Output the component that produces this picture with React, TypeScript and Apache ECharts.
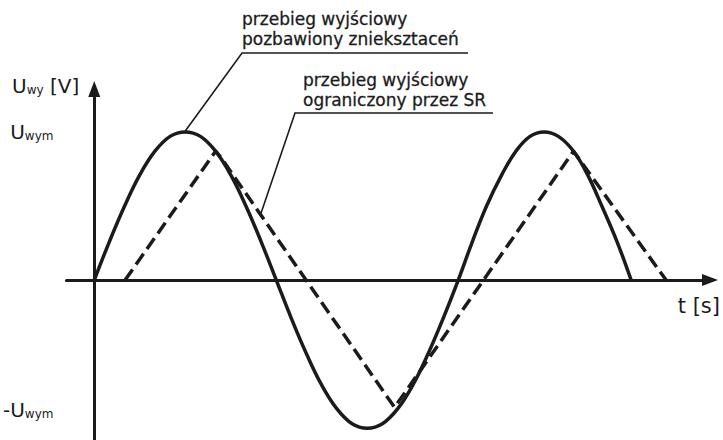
import React, { useEffect, useRef } from "react";
import * as echarts from "echarts";

const INK = "#1b1b1b";
const FONT = "DejaVu Sans, Verdana, sans-serif";

// Time in degrees of the input period, voltage normalised to U_wym.
// Undistorted output (solid curve).
const cleanTime = [
  0, 15, 30, 45, 60, 75, 90, 105, 120, 135, 150, 165, 180, 195, 210, 225, 240,
  255, 270, 285, 300, 315, 330, 345, 360, 374, 388, 403, 417, 431, 445, 459,
  474, 488, 502, 517, 531,
];
const cleanVolt = [
  0, 0.26, 0.5, 0.71, 0.87, 0.97, 1, 0.97, 0.87, 0.71, 0.5, 0.26, 0, -0.26,
  -0.5, -0.71, -0.87, -0.97, -1, -0.97, -0.87, -0.71, -0.5, -0.26, 0, 0.26, 0.5,
  0.71, 0.87, 0.97, 1, 0.97, 0.87, 0.71, 0.5, 0.26, 0,
];

// Output limited by the slew rate (dashed curve).
const srTime = [30.5, 120, 125, 297, 474, 565.5];
const srVolt = [0, 0.87, 0.83, -0.86, 0.87, 0];

// Value-axis marks and their labels.
const voltMarks = [1, -1];
const voltMarkLabels = ["{u|U}{s|wym}", "{nu|-U}{ns|wym}"];

// Annotation texts.
const noteClean = ["przebieg wyjściowy", "pozbawiony znieksztaceń"];
const noteSR = ["przebieg wyjściowy", "ograniczony przez SR"];

// Points on the curves the leader lines point at.
const noteCleanTarget = [90, 1];
const noteSRTarget = [165, 0.44];

const zip = (a: number[], b: number[]) => a.map((v, i) => [v, b[i]]);

const big = { fontFamily: FONT, fontSize: 20, color: INK, verticalAlign: "bottom", lineHeight: 20 };
const sub = { fontFamily: FONT, fontSize: 12, color: INK, verticalAlign: "bottom", lineHeight: 10 };

export default function App() {
  const ref = useRef<HTMLDivElement>(null);

  useEffect(() => {
    if (!ref.current) return;
    const chart = echarts.init(ref.current, null, { renderer: "svg" });

    const base: any = {
      animation: false,
      backgroundColor: "#ffffff",
      grid: { left: 65, right: 11, top: 89, bottom: 0, containLabel: false },
      xAxis: {
        type: "value",
        min: -27.5,
        max: 609,
        name: "t [s]",
        nameLocation: "end",
        nameGap: 10,
        nameTextStyle: {
          fontFamily: FONT,
          fontSize: 21,
          color: INK,
          align: "right",
          verticalAlign: "top",
          padding: [15, 0, 0, 0],
        },
        axisLine: {
          onZero: true,
          symbol: ["none", "triangle"],
          symbolSize: [12, 16],
          lineStyle: { color: INK, width: 3 },
        },
        axisTick: { show: false },
        axisLabel: { show: false },
        splitLine: { show: false },
      },
      yAxis: {
        type: "value",
        min: -1.08,
        max: 1.29,
        name: "{u|U}{s|wy}{u| [V]}",
        nameLocation: "end",
        nameGap: 3,
        nameTextStyle: {
          align: "right",
          verticalAlign: "middle",
          padding: [0, 15, 0, 0],
          rich: { u: big, s: sub },
        },
        axisLine: {
          onZero: true,
          symbol: ["none", "triangle"],
          symbolSize: [12, 16],
          lineStyle: { color: INK, width: 3 },
        },
        axisTick: { show: false },
        splitLine: { show: false },
        axisLabel: {
          customValues: voltMarks,
          margin: 13,
          formatter: (v: number) => voltMarkLabels[voltMarks.indexOf(v)] ?? "",
          rich: {
            u: big,
            s: sub,
            nu: { ...big, padding: [0, 0, 18, 0] },
            ns: { ...sub, padding: [0, 0, 18, 0] },
          },
        },
      },
      series: [
        {
          type: "line",
          data: zip(srTime, srVolt),
          showSymbol: false,
          lineStyle: { color: INK, width: 3.5, type: [13, 6], cap: "butt" },
          z: 2,
        },
        {
          type: "line",
          data: zip(cleanTime, cleanVolt),
          showSymbol: false,
          smooth: 0.4,
          lineStyle: { color: INK, width: 3.5 },
          z: 3,
        },
      ],
    };

    chart.setOption(base);

    const p1 = chart.convertToPixel({ gridIndex: 0 }, noteCleanTarget) as number[];
    const p2 = chart.convertToPixel({ gridIndex: 0 }, noteSRTarget) as number[];

    const note = (text: string, x: number, y: number) => ({
      type: "text",
      x,
      y,
      style: {
        text,
        fill: INK,
        stroke: INK,
        lineWidth: 0.3,
        font: `17px ${FONT}`,
        verticalAlign: "middle",
      },
      z: 10,
    });

    chart.setOption({
      graphic: [
        note(noteClean[0], 242, 19),
        note(noteClean[1], 242, 39),
        {
          type: "polyline",
          shape: { points: [[p1[0], p1[1] - 1], [242, 53], [468, 53]] },
          style: { stroke: INK, lineWidth: 1.6, fill: "none" },
          z: 10,
        },
        note(noteSR[0], 303, 80),
        note(noteSR[1], 303, 100),
        {
          type: "polyline",
          shape: { points: [[p2[0], p2[1] - 2], [295, 113], [493, 113]] },
          style: { stroke: INK, lineWidth: 1.6, fill: "none" },
          z: 10,
        },
      ],
    });

    return () => chart.dispose();
  }, []);

  return (
    <div
      ref={ref}
      style={{ position: "fixed", left: 0, top: 0, width: 723, height: 440, background: "#fff" }}
    />
  );
}
